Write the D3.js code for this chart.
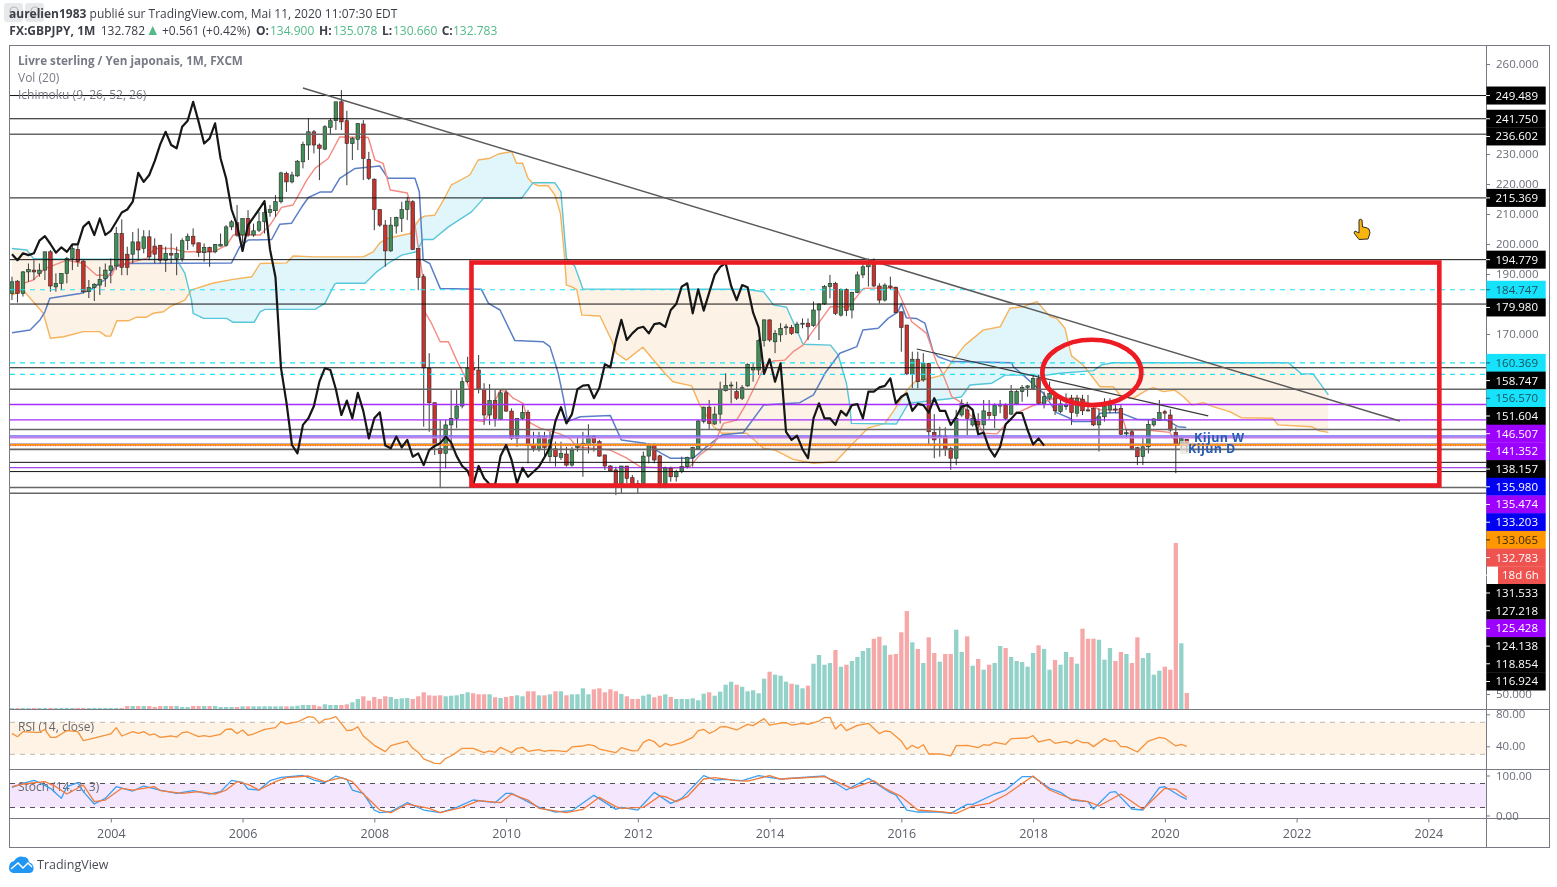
<!DOCTYPE html>
<html>
<head>
<meta charset="utf-8">
<title>GBPJPY 1M</title>
<script src="https://cdn.jsdelivr.net/npm/d3@7"></script>
<style>
    html, body {margin: 0; padding: 0; background: #fff;}
    svg {display: block; filter: blur(0.3px);}
    text {font-family: "Open Sans", sans-serif;}
    .axis path {display: none;}
    .axis line {stroke: #787b86;}
    .axis text {font-size: 11.5px; fill: #6a6d78;}
</style>
</head>
<body>
<svg id="chart" width="1557" height="887"></svg>
<script>
// candles, one per month, month 0 = July 2002
var opens = [183.5,187.6,183.5,190.7,191.3,190.2,191.3,197.4,185.7,186.9,190.2,195.2,198.2,194.3,184.1,185.5,186.3,188.5,191.1,192.7,
    203.5,196.6,196.6,200.7,198.5,202.4,199.3,199.6,194.6,196.9,195.2,195.2,201.1,202.6,200.4,197.1,198.9,197.4,199.3,199.6,
    205.7,207.1,203,208.5,203,204.6,207.4,210.5,211.1,214.1,223.5,220.7,222.7,227.4,233,237.4,233,231.6,238.9,241.1,
    247.4,241.1,233.5,234.9,240,228.2,221.6,211.5,206.3,197.7,206,208.5,211.5,214.1,198.5,189.1,158.6,147.1,131.9,130.2,
    139.7,141.9,146,154.1,158.6,158,151.6,143,147.8,141.6,150.4,144.3,135.2,141.9,143.9,133,131.9,135.8,129.1,131.7,
    128.9,130,126.3,132.2,133,133,135.8,134.1,129.7,126,124.7,120.2,126,122.1,120.2,120.2,129.3,133,129.4,120.2,
    125.2,122.4,124.1,125.8,128.9,131.7,140.8,145.6,140,143.3,151.1,152.7,150.8,148.6,152.7,158,158,167.8,174.7,167.4,
    169.7,172.1,172.2,170.4,173.3,173.6,172.8,178,180,185.8,186.9,176.3,184.9,178,183.8,189.7,192.4,193.6,186,181.3,
    186,185.6,177.4,173,156.7,161.6,154.7,160.2,137.2,135.6,136,131.9,128.6,143,144.7,139.7,140.8,139.7,143.9,142.8,
    146,146.3,143.3,146.7,150.8,152.2,151.9,155.2,146.7,148.6,149.1,144.1,145.8,148.6,143.6,148.3,144.7,145.2,139.7,142.4,
    144.7,145,145.2,136.7,137.4,132.1,129.1,132.4,139.7,141.3,144.1,143,137.2,133.3,134.9];
var highs = [189.1,188,191,193.5,194.6,193.5,197.4,198,190.2,190.2,195.7,199.6,199.6,194.6,188,186.9,192.4,193.5,195.2,205.7,
    208.2,199.1,204,205.2,204.6,204.6,201.9,199.6,199.1,203.5,199.1,201.9,203.5,205.2,200.4,200.2,199.1,200,203.5,206.3,
    208,213,208.5,211.3,206.8,210.7,214.6,213,216.3,224.1,224.1,224.1,228,234.1,241.9,238,233.5,239.6,241.9,247.4,
    251.3,244.4,235.7,240.2,241.3,230.7,221.9,211.5,208,209,209.1,214.1,215.7,214.6,198.5,190,163.6,147.1,141.3,141.3,
    151.3,151.3,155.6,162.4,160.2,163,153.6,153.3,151.3,151.3,151.6,145.2,141.9,146.3,144.7,137.4,137.4,137.4,137.4,134.1,
    134.1,132.4,132.4,135.8,137.4,139.9,136.3,134.7,129.7,126.3,125.8,126,126,123,121.3,130.8,133.6,133.6,129.7,125.8,
    125.8,124.7,129.1,129.1,132.4,141.3,145.8,148,145.8,154.1,156.9,154.1,154.1,153,160.2,160.2,168.2,174.9,174.9,171.3,
    173.6,173.3,173,174.1,175.2,175.2,180.8,180.2,186.3,189.7,187.4,185.2,185.2,184.1,190.8,193.6,195.2,195.2,186.9,186.9,
    189.1,185.8,177.4,173,164.1,164.1,163.6,160.4,143.3,139.1,138.9,132.4,144.7,148.2,147.4,144.7,143.6,148,148,146.9,
    148,146.9,153,151.3,153,153,156.3,156.3,150.8,154.1,150.2,149.1,150.2,149.7,149.7,149.7,149.7,145.6,145.2,148.6,
    148.6,146.7,146.3,138,138,132.4,135.8,141.3,141.9,148,144.7,144.9,139.1,135.8,135.078];
var lows = [181.3,180.5,182.5,187.4,188,189.1,188,184.1,184.1,184.6,186.9,191.3,192.4,183.5,182,181,183,185.7,186.9,191.3,
    189.6,189.6,193.5,194.6,196.9,194.6,193.5,193.5,190.7,193.5,189.6,194.1,198,199.1,195.7,194.1,192.4,196.9,199.1,199.1,
    204.6,202.4,200.2,202.4,202.4,204,203.5,209.1,209.1,213.5,217.4,220.2,222.4,225.2,228,230.2,221.3,231.3,236.3,238,
    238,219.6,228,231.3,221.3,221.3,204.6,205.7,192.4,197.4,203.5,204,208,198,184.6,139.1,137.4,129.7,118.6,125.2,
    131.3,138.6,145.2,153.6,158,150.2,139.7,139.7,139.1,141.3,144.1,134.7,132.4,141.3,126.9,130.8,130.8,129.1,127.4,125.8,
    128,125.8,125.8,130.8,122.4,130.2,130.8,129.1,124.7,124.1,116.3,116.9,120.2,118.7,116.9,120.2,126.9,126.9,118.6,118.6,
    120.8,120.8,123.6,125.2,125.8,131.3,140.2,138,139.7,140.2,150.8,146.9,148,148,152.4,154.1,156.3,165.8,167.4,163.6,
    167.4,169.7,169.7,170.2,171.9,168,172.4,168,179.7,181.9,176.3,175.8,176,175.2,183.6,188.6,185.8,185.6,180.2,180.8,
    184.7,176.9,164.1,156.3,151.9,151.9,154.1,133,128.6,129.1,129.3,124.7,126.3,142.4,136.3,139.1,136.9,136.9,141.3,138.6,
    143.6,141.3,143,146.3,147.4,149.1,151.3,146.3,145.2,148,143,143.6,144.7,139.7,142.4,143,144.1,139.3,130.8,140.8,
    143.6,143.6,136.3,135.2,131.3,126.3,126.3,130.2,139.1,141.1,141.3,137.4,123.6,131.9,130.66];
var closes = [187.4,183.5,190.7,191.5,190.7,191.3,197.4,186,186.9,190.2,195.2,198.5,194.1,184.1,185.5,186.6,188.2,191.3,192.7,203.5,
    192.2,192.2,200.7,198,202.4,195.7,196.6,194.6,196.9,196.3,196.9,201.1,202.6,200,197.1,198.9,197.4,199.9,199.9,205.7,
    207.4,203,208.5,203,204.4,207.4,210.5,211.5,214.1,223.7,220.7,223,227.6,233.2,237.4,233,231.9,239.1,241.1,247.4,
    240.7,233.5,235.2,240.2,228.5,221.9,211.5,206.3,197.7,206.3,208.9,211.5,214.3,198.2,188.9,158.7,147.1,133,130.2,139.7,
    141.9,146,154.1,158.6,158,151.6,143,147.8,141.9,150.4,144.3,135.2,141.9,143.9,132.8,131.9,135.8,132.2,134.7,129.1,
    130.2,126.3,131.3,132.7,133.6,135.8,133.8,129.3,126,124.4,119.7,126,121.9,119.9,119.7,129.3,133,128,120.2,125.4,
    122.4,124.1,125.8,128.9,132.2,141,145.6,140.2,143.3,151.6,152.8,153,148.6,152.1,159.9,158.9,167.8,174.7,168,170.2,
    171.9,172.4,170.2,173.3,173.6,172.4,178,180,185.8,186.9,176.9,184.9,177.8,183.8,189.7,192.4,193.6,186,181.3,186.3,
    185.6,177.1,172.2,156.7,161.6,154.1,160.2,137.4,134.7,136.1,131.6,128.6,141.9,146.9,141.9,141.9,139.7,144.4,142.8,146.3,
    146.6,141.9,150.8,150.8,152.2,152.7,155.2,146.9,149.1,150.2,144.4,146.7,146.3,143.8,148.6,144.4,144.4,139.7,142.4,145.8,
    146.3,144.7,136.6,137.1,131.9,129.1,132.4,139.9,141.7,143.8,143.6,138,133.2,135.2,132.783];

var volumes = [1,1,1,1,1,1,1,1,1,1,1,1,1,1,1,1,1,1,1,1,1,3,3,3,3,3,2,3,3,3,3,2,2,3,3,3,3,3,2,2,2,2,
    2.7,2.7,2.7,2.7,2.7,2.7,2.7,2.7,2.7,2.7,3.3,4,4,4,2.7,4.7,4,4,4,4.7,6.7,10,12.7,8.3,12,10,12.7,12,10,10.7,11,10,12.7,16.7,
    13.7,13.3,13.7,12.7,13.3,13.7,15,16.7,15.7,14.7,14.7,14.7,11.7,11,12,13,13.7,12.7,17.7,17.7,13.7,13.7,14.7,17.7,17.7,13.7,
    14.7,14.7,20.7,14.7,19.7,20.7,16.7,19.7,17.7,15,12.7,10,10,13.3,14.7,11.7,13.3,14.7,12,10,10,10,10.7,8.7,15.3,16.7,13.3,
    17.3,24.3,27.3,24.3,22.3,17.7,18.7,15.7,30.3,37.3,34.3,33.3,27.3,25.3,24.3,20.7,23.3,45.3,54,44.3,46,59,42.3,44.3,48,52,58,
    61,70.3,72.3,63.7,54.3,55,76.7,98,66.7,60,46,71.7,56,47.3,55,55,79.3,57,72.7,43.3,50,39.3,44.3,46,63,61,52,48,47,42.3,56,
    63.7,60,39.3,49,44.3,57,52,45.3,80.3,70.3,70.3,69.3,49.3,61,48,57,55,46,71.7,51,56,34.3,38.3,42.3,39.3,166,65.7,16];

// ichimoku lines, corners (month index / price)
var kijunMonths = [0,3.3,5.1,6,6.9,12.4,14.2,17.2,18.8,20.9,40,41.5,43,47.3,48.8,50.9,52.8,54,56.1,58.2,59.7,62.5,67,68.5,73.4,74.2,74.9,76.1,78,85.5,86.8,88.9,91.6,96.8,98,99.5,100.4,101.2,103.5,109,111,115.3,118.3,119.9,124.1,126.5,129.3,133.2,136.9,143.5,146,148.1,150.8,153.9,155,157.8,159.6,161.4,162,162.9,164.7,166.3,167.8,168.7,171.2,182.1,182.4,184.2,187.9,190.3,192.7,193.3,197,198.2,201.8,204.9,210.3,212.4,213.9];
var kijunValues = [170.4,171.3,174.7,177.4,181.9,183.5,184.6,188.5,192.4,193.5,193.7,199.1,201.3,201.5,206.6,206.9,212.4,215.5,217.3,217.3,221.9,225.2,226,221.9,221.9,217.4,194.6,193.5,185.2,184.9,180.2,178,167.8,167.4,165.8,156.9,149.1,140.8,142.4,142.8,134.7,133.6,130.2,128.6,128.6,132.4,136.3,137.1,146.3,147.1,149.7,156.9,163.6,165.8,171.3,171.9,175.2,177.4,180.2,175.4,175.2,173.6,164.1,162.4,160.8,160.4,159.1,156.3,150.2,143.8,141.9,140.8,140.8,143.6,143.8,141.6,141.3,139.1,138.8];
var tenkanMonths = [2,3.9,6,10,13,15.4,18.2,19,20.9,24.5,26,29.4,31.2,36.7,39.1,40.3,45.2,47,49.1,51.2,53.7,55.2,57.6,59.7,64.9,66.1,67.6,68.9,72,73.1,74.9,75.2,76.4,78,79.5,81,82.5,83.4,84,85.9,87,88.9,90.1,91.3,93.1,94,96.2,99.8,101.6,102.9,109,112,114.4,119.9,123.5,125.3,127.8,129.6,132,133.8,135.6,137.2,138.7,140.8,142.3,144.1,146,149.1,152.4,155.1,161.1,163.9,166.6,168.5,169.5,171.2,172.7,174.5,175.7,176.9,179.4,181.5,183,185.8,190,194.5,197,198.2,201.8,203,206.7,210.9,212.1,214];
var tenkanValues = [186.9,188,191.8,194.6,193.5,189.6,189.6,193,193.5,195.2,198.5,198.5,197.4,197.4,199.6,203,203,206.3,212.2,213,221.3,225.2,228.5,235.7,235.5,228,226.9,218,217,210.2,188,177.4,173.6,167.4,167.4,161.3,155.8,151.3,141.3,140.8,143.6,151.3,150.8,148.6,146.9,140.8,138.6,136.7,135.2,132.4,131.3,128.6,125.8,125.2,125.8,129.7,133,140.2,141.3,146.9,153.6,159.7,161,161.3,164.1,166.3,171.3,179.1,179.1,185.2,185.4,174.1,170.2,160.2,156.9,149.1,147.4,143,141.3,136.9,136.7,140.8,143.6,146,148.6,148.6,145.8,144.7,144.7,138,138,137.2,133.6,133.6];
var senkouAMonths = [0,2,5.7,7,9.4,13,16,17.1,18,19.1,21.2,22.7,24.5,25.7,27.6,28.8,31.5,32.7,36.7,40.3,43.7,45.2,50,51.2,55.2,64,65.8,67,68.5,72.5,74.3,75.2,77,78.6,80,83.4,84.9,87.1,88.6,91,91.9,93,94,94.9,95.9,97.7,98.9,99.9,100.6,101,102.1,102.9,103.8,107.1,109.2,110.1,111.9,114.9,118.9,120.4,123.8,125.3,127.8,129.3,133.8,136.9,139,142.3,146,150,152.6,155.9,159,160.5,163,164.5,169.6,171.2,173.6,176.9,180,181.8,184.2,186.7,189.1,190.3,191.8,193,195.1,198.2,200.6,202.1,204.3,206.7,207.9,209.7,211.8,213.4,214.9,217,218.8,221.8,223.9,229.7,230.6,236.7,238.2,239.8];
var senkouAValues = [183,184.7,176.9,168.6,169.1,170.8,170.8,169.3,169.3,174.4,174.4,175.6,175.6,176.9,177.4,179.1,181.3,184.7,187,188.2,189.1,193.5,193.7,196,195.7,195.7,197.4,200.4,201.9,203.5,208.5,209.3,209.6,214.6,219.6,223,228,228.6,230,230.8,226.9,226.9,221.9,220.2,219.4,219.4,216.3,210.2,196.9,186.3,185.6,184.7,176.3,176,168,163.6,161.3,165.6,156.9,154.1,152.7,146.3,139.1,136.9,136.9,131.9,131.3,128.2,126.9,127.4,132.4,138.6,140.2,144.1,151.3,154.1,156.3,160.8,166.3,171.3,172.4,178.6,179.1,180.8,175.8,175.2,171.9,162.7,159.7,152.4,152.4,149.1,148.6,151.3,152.1,150.8,151.3,149.1,146.3,147.1,145.8,144.1,142.1,141.9,139.7,139.1,137.7,137.2];
var senkouBMonths = [0,2.7,3.9,10,30,31.5,32.7,33,34.9,39.1,40.3,44.1,45.2,46.1,55.2,57,58.8,59.1,64.3,66.4,68.5,71,73.7,74.9,76.7,79.5,83.7,85.9,92.8,94.9,98.9,100,100.6,101,102.5,104,133.8,136.9,138.7,141.1,144.1,149.1,150.5,152,152.6,152.9,161.1,163.3,171.5,173,174.5,178.5,180.9,188.5,190.9,197,198.5,200.6,232.5,234.9,237,239.8];
var senkouBValues = [198.5,198,195.2,194.9,194.9,190.2,181.3,176.9,175.2,175.2,173.9,173.9,177.4,178.2,178.2,180.2,186.7,186.9,186.9,190.7,193.5,196.3,197.4,201.5,201.5,205.7,210.7,215.2,215.2,220.4,220.4,217.4,203.6,195.2,192.7,185,184.9,184.1,179.7,178.9,166.6,166.3,163,153.6,146.3,140.2,140,146.9,148.6,149.1,153,153.6,156.3,156.3,156.9,157.8,159.7,160.4,160.4,156.7,156.7,149.7];

var rsiMonths = [0,1,2,4,5,6,7,8,9,10,12,13,14,16,18,19,20,22,23,24,25,26,27,29,30,31,32,34,35,36,38,39,40,41,42,43,44,46,48,49,50,52,54,55,56,57,58,59,61,62,63,64,66,68,69,72,73,74,75,77,78,79,80,82,84,86,87,88,89,91,92,93,94,96,97,98,99,101,102,104,105,106,107,110,111,113,114,115,116,117,118,119,120,122,124,125,126,127,128,129,130,132,134,135,137,138,140,141,142,144,145,147,148,149,150,151,152,154,156,158,159,160,162,163,164,165,166,167,169,171,172,174,176,177,178,179,181,182,185,186,187,189,190,192,193,194,195,196,197,199,200,201,202,203,205,207,209,210,212,213,214];
var rsiValues = [56.2,52,58.3,57.5,57.5,61.2,51.2,51.2,55.4,59.6,58.3,47,48.7,52,55.4,63.3,52.9,58.3,56.2,58.3,54.1,55.4,51.2,52.9,51.6,57,57.9,52,53.3,52,55,61.2,61.6,55.8,60.4,53.7,55.4,61.2,63.3,70.8,67.9,70.4,77.1,76.2,68.7,73.7,74.6,77.1,59.6,60.4,64.2,52.9,41.2,33.3,40.8,46.6,37.5,32.5,24.2,18.7,18.3,25,27.9,37.5,37.5,32.1,34.2,32.5,38.7,32.1,37.5,38.7,33.7,35.8,33.7,35,34.6,33.3,39.2,40.4,42,40.8,36.6,32.1,38.3,34.2,34.6,45,48.3,45.8,39.2,43.7,41.2,44.6,51.2,59.6,61.2,56.2,59.1,64.2,64.6,60.4,67.5,65.8,74.6,66.6,69.1,69.6,66.6,68.7,67.5,71.6,75.8,76.2,61.6,67.5,59.6,66.2,68.7,55.8,59.1,58.3,46.6,36.2,41.2,37.5,42,30.4,30.4,27.9,40.8,41.2,38.3,42,41.2,45,42.5,49.6,50.4,53.3,45.4,48.7,43.7,46.2,43.3,47.9,44.6,44.6,39.6,49.6,46.2,47.1,39.6,39.6,32.9,46.6,51.2,50,40.4,42.5,40];
var stochKMonths = [0,2,4,5,7,9,10,12,13,15,17,19,22,24,27,30,33,36,38,40,42,43,45,47,49,53,55,57,59,61,62,64,66,67,69,72,75,78,81,84,88,90,91,96,99,102,106,110,111,114,117,120,122,126,128,130,133,136,140,148,152,156,160,161,163,165,169,171,174,175,179,181,184,186,189,191,193,196,197,200,201,204,206,209,210,213,214];
var stochKValues = [70.4,80.4,87.9,82,67.9,42.9,72,82,59.6,28.7,42.9,72,61.2,73.7,63.7,55.4,62,53.7,59.6,87.9,82.9,66.2,63.7,87,95.4,100,88.7,82,98.7,90.4,63.7,55.4,13.7,7,9.6,32,13.7,7,20.4,38.7,32,55.4,55.4,20.4,8.7,12,50.4,15.4,20.4,13.7,57.9,30.4,42.9,99.6,88.7,90.4,87,99.6,91.2,98.7,63.7,92.9,57,51.2,13.7,8.7,8.7,5.4,27.9,27.9,53.7,63.7,97,97,67.9,57.9,38.7,34.6,16.2,57.9,59.6,16.2,13.7,69.6,72,47,40.4];
var stochDMonths = [0,2,6,8,10,13,15,17,20,22,26,27,31,34,37,39,41,43,45,48,50,54,57,60,62,64,67,69,72,76,78,82,85,89,91,94,96,101,104,107,110,111,115,118,119,121,123,126,128,132,134,138,140,148,153,157,159,162,165,169,172,175,178,181,186,189,193,196,198,202,206,210,212,214];
var stochDValues = [72,78.7,84.6,72,53.7,76.2,34.6,38.7,67.9,63.7,72,62,55.4,59.6,53.7,63.7,84.6,77.9,63.7,84.6,94.6,98.7,84.6,94.6,84.6,53.7,13.7,7,28.7,18,7,20.4,37,32,53.7,38.7,17.9,7,15.4,45.4,22.1,17.9,20.4,48.7,47,34.6,47,91.2,94.6,87,86.2,99.6,91.2,97,67.9,87,67.9,47,13.7,9.6,5.4,23.7,30.4,51.2,98.7,63.7,41.2,34.6,23.7,53.7,15.4,68,65.4,45.4];

// drawn levels on the price scale, top to bottom
var levelValues = [249.489,241.750,236.602,215.369,194.779,184.747,179.980,160.369,158.747,156.570,151.604,146.507,141.352,138.157,135.980,135.474,133.203,133.065,132.783,131.533,127.218,125.428,124.138,118.854,116.924];
var levelKinds = ["black","black","grey","black","black","cyan","black","cyan","black","cyan","grey","purple","purple","grey","blue","lilac","blue","orange","red","grey","black","violet","black","grey","grey"];
var countdownLabel = "18d 6h";

var yearTicks = [2004,2006,2008,2010,2012,2014,2016,2018,2020,2022,2024];
// the other round prices sit under the level labels
var priceTicks = [260,230,220,210,200,190,170,50];
var rsiTicks = [80, 40];
var rsiBand = [70, 30];
var stochTicks = [100, 0];
var stochBand = [80, 20];

var trendMain = {months: [53, 252.8], prices: [252, 141]};
var trendInner = {months: [164.8, 217.9], prices: [165, 142.7]};
var redBox = {months: [83.7, 260], prices: [193.83, 119.5]};
var redEllipse = {month: 196.7, price: 157.2};

var levelStyles = {
    black: {stroke: "#111", width: 1, bg: "#000", fg: "#fff"},
    grey: {stroke: "#666", width: 1.6, bg: "#000", fg: "#fff"},
    cyan: {stroke: "#1fe3f5", width: 1.2, dash: "5,5", bg: "#16e3fb", fg: "#1c4f5c"},
    purple: {stroke: "#a62cff", width: 1.3, bg: "#9c00ff", fg: "#fff"},
    violet: {stroke: "#8a17e0", width: 1, bg: "#9c00ff", fg: "#fff"},
    lilac: {stroke: "#c77de8", width: 1.6, bg: "#9c00ff", fg: "#fff"},
    blue: {stroke: "#6f6cf2", width: 1.6, bg: "#0000f5", fg: "#fff"},
    orange: {stroke: "#ff9800", width: 2, bg: "#ff9800", fg: "#3a2a00"},
    red: {stroke: "#ef5350", width: 1, dash: "1,1.5", bg: "#ef5350", fg: "#fff"}
};

var upColor = "#3f8f56", downColor = "#c8332e";
var volUp = "#92d2c8", volDown = "#f6a8a8";

var left = 10, right = 1486, frameRight = 1549.5;

var svg = d3.select("#chart");

var x = d3.scaleLinear().domain([-0.36, 268.5]).range([left, right]);
var yPrice = d3.scaleLinear().domain([260, 50]).range([64, 694]);
var yVol = d3.scaleLinear().domain([0, 166]).range([709, 543]);
var yRsi = d3.scaleLinear().domain([80, 30]).range([714.3, 754.3]);
var yStoch = d3.scaleLinear().domain([100, 0]).range([775.5, 815.5]);

// value of a corner list at month m, only used to shade the cloud
function readAt(months, values, m) {
    var i = d3.bisectLeft(months, m);
    if (i <= 0) return values[0];
    if (i >= months.length) return values[values.length - 1];
    var t = (m - months[i - 1]) / (months[i] - months[i - 1]);
    return values[i - 1] + t * (values[i] - values[i - 1]);
}

function drawLine(g, months, values, y, color, width) {
    var line = d3.line()
        .x(function (d) { return x(d[0]); })
        .y(function (d) { return y(d[1]); });
    g.append("path")
        .datum(d3.zip(months, values))
        .attr("d", line)
        .attr("fill", "none")
        .attr("stroke", color)
        .attr("stroke-width", width)
        .attr("stroke-linejoin", "round");
}

// pane bands go under everything
function drawBand(band, y, fill, dashColor) {
    svg.append("rect")
        .attr("x", left).attr("width", right - left)
        .attr("y", y(band[0])).attr("height", y(band[1]) - y(band[0]))
        .attr("fill", fill);
    svg.selectAll(null).data(band).enter().append("line")
        .attr("x1", left).attr("x2", right)
        .attr("y1", y).attr("y2", y)
        .attr("stroke", dashColor)
        .attr("stroke-dasharray", "5,5");
}
drawBand(rsiBand, yRsi, "#fff3e6", "#bdb8b0");
drawBand(stochBand, yStoch, "#f3e6fd", "#55525a");

// cloud
var cloudMonths = d3.range(0, 239.9, 0.25);
var cloud = svg.append("g");
var areaAbove = d3.area()
    .x(function (m) { return x(m); })
    .y0(function (m) { return yPrice(readAt(senkouBMonths, senkouBValues, m)); })
    .y1(function (m) {
        return yPrice(Math.max(readAt(senkouAMonths, senkouAValues, m), readAt(senkouBMonths, senkouBValues, m)));
    });
var areaBelow = d3.area()
    .x(function (m) { return x(m); })
    .y0(function (m) { return yPrice(readAt(senkouBMonths, senkouBValues, m)); })
    .y1(function (m) {
        return yPrice(Math.min(readAt(senkouAMonths, senkouAValues, m), readAt(senkouBMonths, senkouBValues, m)));
    });
cloud.append("path").attr("d", areaAbove(cloudMonths)).attr("fill", "#e1f6fb");
cloud.append("path").attr("d", areaBelow(cloudMonths)).attr("fill", "#fdf2e6");

// volume
var barWidth = 4.3;
svg.append("g").selectAll("rect")
    .data(volumes)
    .enter().append("rect")
    .attr("x", function (d, i) { return x(i) - barWidth / 2; })
    .attr("y", function (d) { return yVol(d); })
    .attr("width", barWidth)
    .attr("height", function (d) { return yVol(0) - yVol(d); })
    .attr("fill", function (d, i) { return closes[i] >= opens[i] ? volUp : volDown; });

var lines = svg.append("g");
drawLine(lines, senkouAMonths, senkouAValues, yPrice, "#f7b35b", 1.4);
drawLine(lines, senkouBMonths, senkouBValues, yPrice, "#58c6d9", 1.4);
drawLine(lines, kijunMonths, kijunValues, yPrice, "#5b7fc7", 1.5);
drawLine(lines, tenkanMonths, tenkanValues, yPrice, "#f58a80", 1.4);

// candles
var candles = svg.append("g").selectAll("g")
    .data(opens)
    .enter().append("g");
candles.append("line")
    .attr("x1", function (d, i) { return x(i); })
    .attr("x2", function (d, i) { return x(i); })
    .attr("y1", function (d, i) { return yPrice(highs[i]); })
    .attr("y2", function (d, i) { return yPrice(lows[i]); })
    .attr("stroke", "#3a3a3a")
    .attr("stroke-width", 1);
candles.append("rect")
    .attr("x", function (d, i) { return x(i) - 1.8; })
    .attr("width", 3.6)
    .attr("y", function (d, i) { return yPrice(Math.max(opens[i], closes[i])); })
    .attr("height", function (d, i) { return Math.max(1, Math.abs(yPrice(opens[i]) - yPrice(closes[i]))); })
    .attr("fill", function (d, i) { return closes[i] >= opens[i] ? upColor : downColor; })
    .attr("stroke", "#2a2a2a")
    .attr("stroke-width", 0.6);

// levels
var levels = svg.append("g");
levels.selectAll("line")
    .data(levelValues)
    .enter().append("line")
    .attr("x1", left).attr("x2", right)
    .attr("y1", yPrice).attr("y2", yPrice)
    .attr("stroke", function (d, i) { return levelStyles[levelKinds[i]].stroke; })
    .attr("stroke-width", function (d, i) { return levelStyles[levelKinds[i]].width; })
    .attr("stroke-dasharray", function (d, i) { return levelStyles[levelKinds[i]].dash || null; });

// chikou is the close drawn 26 months back
drawLine(svg.append("g"), d3.range(closes.length - 26), closes.slice(26), yPrice, "#161616", 2.2);

// trend lines
var trends = svg.append("g");
drawLine(trends, trendMain.months, trendMain.prices, yPrice, "#5a5a5a", 1.5);
drawLine(trends, trendInner.months, trendInner.prices, yPrice, "#3a3a3a", 1.2);

// annotations
svg.append("rect")
    .attr("x", x(redBox.months[0]))
    .attr("y", yPrice(redBox.prices[0]))
    .attr("width", x(redBox.months[1]) - x(redBox.months[0]))
    .attr("height", yPrice(redBox.prices[1]) - yPrice(redBox.prices[0]))
    .attr("fill", "none")
    .attr("stroke", "#ed1c24")
    .attr("stroke-width", 4.6);
svg.append("ellipse")
    .attr("cx", x(redEllipse.month))
    .attr("cy", yPrice(redEllipse.price))
    .attr("rx", 49.5).attr("ry", 32.7)
    .attr("fill", "none")
    .attr("stroke", "#ed1c24")
    .attr("stroke-width", 4.6);

svg.append("rect")
    .attr("x", 1180).attr("y", 441).attr("width", 10).attr("height", 13)
    .attr("fill", "#e8e2da").attr("opacity", 0.7);
svg.append("text").attr("x", 1194).attr("y", 441.5)
    .attr("font-size", 12.5).attr("font-weight", 700).attr("letter-spacing", 0.4)
    .attr("fill", "#2a5db0").text("Kijun W");
svg.append("text").attr("x", 1188).attr("y", 452.5)
    .attr("font-size", 12.5).attr("font-weight", 700).attr("letter-spacing", 0.4)
    .attr("fill", "#2a5db0").text("Kijun D");

// pane legends
var legends = [
    ["Livre sterling / Yen japonais, 1M, FXCM", 18, 65, 700, 11.7, "#787b86"],
    ["Vol (20)", 18, 82, 400, 12, "#787b86"],
    ["Ichimoku (9, 26, 52, 26)", 18, 99, 400, 12, "#787b86"],
    ["RSI (14, close)", 18, 731, 400, 12, "#66686f"],
    ["Stoch (14, 3, 3)", 18, 791, 400, 12, "#66686f"]
];
svg.append("g").selectAll("text")
    .data(legends)
    .enter().append("text")
    .attr("x", function (d) { return d[1]; })
    .attr("y", function (d) { return d[2]; })
    .attr("font-size", function (d) { return d[4]; })
    .attr("font-weight", function (d) { return d[3]; })
    .attr("fill", function (d) { return d[5]; })
    .text(function (d) { return d[0]; });

// panes and frame
var frame = svg.append("g").attr("fill", "none").attr("stroke", "#787b86");
frame.append("rect").attr("x", 9.5).attr("y", 45.5).attr("width", frameRight - 9.5).attr("height", 802);
frame.selectAll("line.pane")
    .data([709.5, 769.5, 818.5])
    .enter().append("line").attr("class", "pane")
    .attr("x1", 9.5).attr("x2", frameRight).attr("y1", function (d) { return d; }).attr("y2", function (d) { return d; });
frame.append("line").attr("x1", right + 0.5).attr("x2", right + 0.5).attr("y1", 45.5).attr("y2", 847.5);

// axes
function rightAxis(y, ticks, digits) {
    svg.append("g")
        .attr("class", "axis")
        .attr("transform", "translate(" + right + ",0)")
        .call(d3.axisRight(y).tickValues(ticks).tickSize(4).tickPadding(6).tickFormat(d3.format("." + digits + "f")));
}
rightAxis(yPrice, priceTicks, 3);
rightAxis(yRsi, rsiTicks, 2);
rightAxis(yStoch, stochTicks, 2);

var xAxis = d3.axisBottom(x)
    .tickValues(yearTicks.map(function (yr) { return (yr - 2002.5) * 12; }))
    .tickSize(4)
    .tickPadding(7)
    .tickFormat(function (m) { return String(Math.round(2002.5 + m / 12)); });
svg.append("g").attr("class", "axis").attr("transform", "translate(0,818.5)").call(xAxis)
    .selectAll("text").style("font-size", "12.5px").style("fill", "#5d606b");

// stacked labels on the price axis, pushed down when they would overlap
var labelHeight = 17.7;
var labelGroup = svg.append("g");
var cursorY = -100;
function priceLabel(text, y, bg, fg, fromX) {
    labelGroup.append("rect")
        .attr("x", fromX).attr("y", y - 9)
        .attr("width", 1545.7 - fromX).attr("height", 18)
        .attr("fill", bg);
    labelGroup.append("line")
        .attr("x1", right).attr("x2", right + 4).attr("y1", y).attr("y2", y)
        .attr("stroke", fg);
    labelGroup.append("text")
        .attr("x", fromX === right + 0.5 ? 1495.5 : fromX + 4)
        .attr("y", y + 4)
        .attr("font-size", 11.5)
        .attr("fill", fg)
        .text(text);
}
levelValues.forEach(function (v, i) {
    var st = levelStyles[levelKinds[i]];
    var yy = Math.max(yPrice(v), cursorY + labelHeight);
    priceLabel(v.toFixed(3), yy, st.bg, st.fg, right + 0.5);
    cursorY = yy;
    if (levelKinds[i] === "red") {
        cursorY += labelHeight;
        priceLabel(countdownLabel, cursorY, st.bg, st.fg, 1498);
    }
});

// header
var header = svg.append("g").attr("font-size", 12);
var toolbarIcons = [4, 25];
var tools = header.selectAll("g.tool")
    .data(toolbarIcons)
    .enter().append("g").attr("class", "tool");
tools.append("rect")
    .attr("x", function (d) { return d; }).attr("y", 3)
    .attr("width", 19).attr("height", 19).attr("rx", 3)
    .attr("fill", "#dfe1e3").attr("opacity", 0.75);
tools.append("circle")
    .attr("cx", function (d) { return d + 10; }).attr("cy", 11).attr("r", 4)
    .attr("fill", "none").attr("stroke", "#b5b8bd").attr("stroke-width", 1.2);

var headerTop = header.append("text").attr("x", 9).attr("y", 18).attr("fill", "#3c3f47");
headerTop.append("tspan").attr("font-weight", 700).text("aurelien1983");
headerTop.append("tspan").text(" publié sur TradingView.com, Mai 11, 2020 11:07:30 EDT");

var teal = "#53b987", dark = "#3c3f47";
var headerParts = [
    ["FX:GBPJPY, 1M", 9.3, dark, 700],
    ["132.782", 100.7, dark, 400],
    ["+0.561 (+0.42%)", 162, dark, 400],
    ["O:", 256, dark, 700],
    ["134.900", 270, teal, 400],
    ["H:", 319, dark, 700],
    ["135.078", 333, teal, 400],
    ["L:", 382, dark, 700],
    ["130.660", 393, teal, 400],
    ["C:", 441.7, dark, 700],
    ["132.783", 453, teal, 400]
];
header.selectAll("text.part")
    .data(headerParts)
    .enter().append("text").attr("class", "part")
    .attr("x", function (d) { return d[1]; })
    .attr("y", 35)
    .attr("fill", function (d) { return d[2]; })
    .attr("font-weight", function (d) { return d[3]; })
    .text(function (d) { return d[0]; });
header.append("path").attr("d", "M148.5 35 L157 35 L152.75 26 Z").attr("fill", teal);

// sub panes
var rsiG = svg.append("g");
drawLine(rsiG, rsiMonths, rsiValues, yRsi, "#f7923a", 1.3);
var stochG = svg.append("g");
drawLine(stochG, stochKMonths, stochKValues, yStoch, "#3aa0f2", 1.3);
drawLine(stochG, stochDMonths, stochDValues, yStoch, "#f5793a", 1.3);

// hand cursor
svg.append("path")
    .attr("d", "M1359 220 Q1360.5 218.5 1362 220 L1362.5 227 L1366 227.5 L1369 229 L1370 233 L1368 239 L1359 239.5 L1354 233 L1355 231 L1359 233 Z")
    .attr("fill", "#f9b50f")
    .attr("stroke", "#1a1a1a")
    .attr("stroke-width", 0.9);

// footer logo
var logo = svg.append("g");
logo.append("path")
    .attr("d", "M9 868 Q9 862 14 861 Q18 855 24 857 Q28 857 29 862 Q34 864 33.5 869 Q33 873 29 873 L13 873 Q9 872 9 868 Z")
    .attr("fill", "#2196f3");
logo.append("path")
    .attr("d", "M11 869 L18 863 L23 868 L28 863 L32 867")
    .attr("fill", "none").attr("stroke", "#fff").attr("stroke-width", 1.5);
logo.append("text").attr("x", 37).attr("y", 869)
    .attr("font-size", 12.5).attr("fill", "#4a4d55").text("TradingView");
</script>
</body>
</html>
